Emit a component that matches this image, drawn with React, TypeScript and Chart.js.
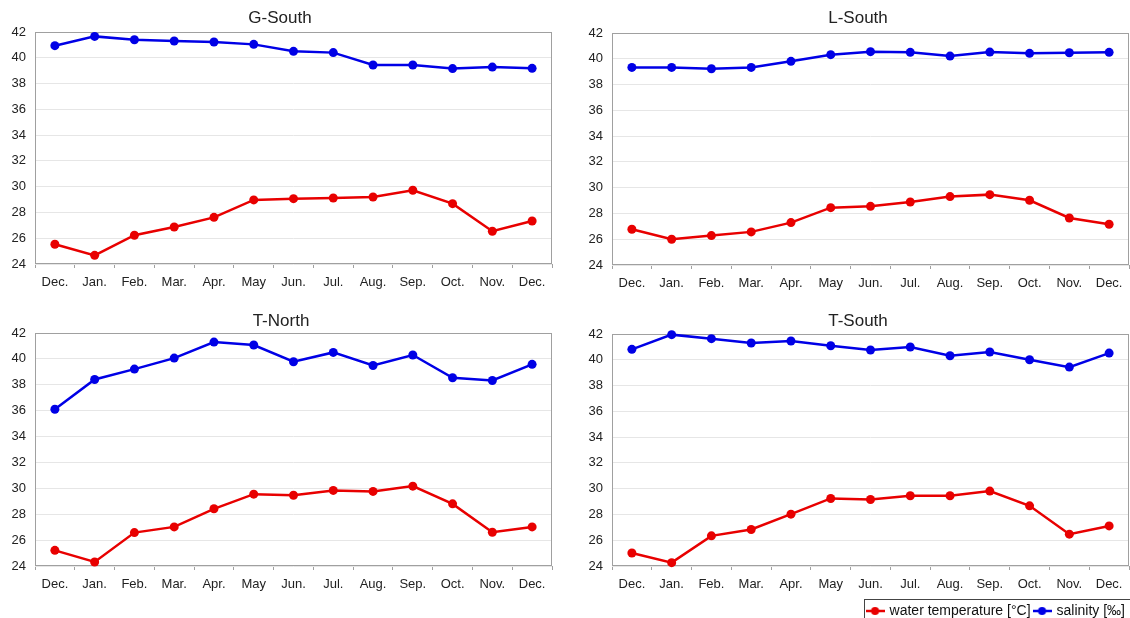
import React, { useEffect, useRef } from 'react';
import { Chart, registerables } from 'chart.js';

Chart.register(...registerables);

// ---------- data ----------
const months = ['Dec.', 'Jan.', 'Feb.', 'Mar.', 'Apr.', 'May', 'Jun.', 'Jul.', 'Aug.', 'Sep.', 'Oct.', 'Nov.', 'Dec.'];
const seriesLabels = ['water temperature [°C]', 'salinity [‰]'];
const yMin = 24;
const yMax = 42;
const yStep = 2;

const gSouthTemp = [25.53, 24.67, 26.23, 26.87, 27.62, 28.97, 29.07, 29.12, 29.2, 29.72, 28.68, 26.54, 27.34];
const gSouthSal = [40.94, 41.66, 41.4, 41.3, 41.22, 41.04, 40.5, 40.4, 39.44, 39.44, 39.16, 39.28, 39.18];

const lSouthTemp = [26.77, 26.0, 26.28, 26.57, 27.29, 28.45, 28.55, 28.89, 29.31, 29.46, 29.02, 27.65, 27.16];
const lSouthSal = [39.33, 39.33, 39.23, 39.33, 39.8, 40.32, 40.55, 40.5, 40.21, 40.52, 40.42, 40.47, 40.5];

const tNorthTemp = [25.21, 24.31, 26.58, 27.02, 28.42, 29.55, 29.47, 29.84, 29.76, 30.17, 28.8, 26.61, 27.02];
const tNorthSal = [36.11, 38.41, 39.21, 40.06, 41.3, 41.07, 39.78, 40.5, 39.49, 40.3, 38.54, 38.33, 39.58];

const tSouthTemp = [25.01, 24.26, 26.34, 26.83, 28.02, 29.24, 29.16, 29.45, 29.45, 29.81, 28.67, 26.47, 27.11];
const tSouthSal = [40.81, 41.95, 41.64, 41.3, 41.46, 41.09, 40.76, 40.99, 40.31, 40.6, 40.0, 39.43, 40.52];

// ---------- style ----------
const RED = 'rgb(232,0,0)';
const BLUE = 'rgb(0,0,230)';
const FONT = "'Liberation Sans', Arial, Helvetica, sans-serif";
const TEXT = '#222';

type PanelProps = {
  title: string;
  temp: number[];
  sal: number[];
  left: number;
  top: number;
  width: number;
  height: number;
  padLeft: number;
  yAxisWidth: number;
  xAxisHeight: number;
  padRight: number;
  titlePadTop: number;
  titlePadBottom: number;
  legend?: boolean;
};

const framePlugin = {
  id: 'frame',
  beforeDatasetsDraw(chart: any) {
    const { ctx, chartArea } = chart;
    ctx.save();
    ctx.strokeStyle = '#a0a0a0';
    ctx.lineWidth = 1;
    ctx.strokeRect(
      Math.round(chartArea.left) + 0.5,
      Math.round(chartArea.top) + 0.5,
      Math.round(chartArea.right - chartArea.left) - 1,
      Math.round(chartArea.bottom - chartArea.top) - 1
    );
    ctx.restore();
  },
};

const legendBoxPlugin = {
  id: 'legendBox',
  afterDraw(chart: any) {
    const lg = chart.legend;
    if (!lg || !lg.options.display || !lg.legendHitBoxes || !lg.legendHitBoxes.length) return;
    const hb = lg.legendHitBoxes;
    let l = Infinity;
    let r = -Infinity;
    let t = Infinity;
    let b = -Infinity;
    hb.forEach((h: any) => {
      l = Math.min(l, h.left);
      r = Math.max(r, h.left + h.width);
      t = Math.min(t, h.top);
      b = Math.max(b, h.top + h.height);
    });
    const ctx = chart.ctx;
    ctx.save();
    ctx.strokeStyle = '#444';
    ctx.lineWidth = 1;
    ctx.strokeRect(Math.round(l - 4) + 0.5, Math.round(t - 5) + 0.5, Math.round(r - l + 14), Math.round(b - t + 14));
    ctx.restore();
  },
};

function markerImage(color: string): HTMLCanvasElement {
  const c = document.createElement('canvas');
  c.width = 19;
  c.height = 10;
  const g = c.getContext('2d')!;
  g.strokeStyle = color;
  g.lineWidth = 2.5;
  g.beginPath();
  g.moveTo(0, 5);
  g.lineTo(19, 5);
  g.stroke();
  g.fillStyle = color;
  g.beginPath();
  g.arc(9.5, 5, 4, 0, Math.PI * 2);
  g.fill();
  return c;
}

function Panel(p: PanelProps) {
  const ref = useRef<HTMLCanvasElement>(null);
  useEffect(() => {
    if (!ref.current) return;
    const mk = (label: string, data: number[], color: string) => ({
      label,
      data,
      borderColor: color,
      backgroundColor: color,
      pointBackgroundColor: color,
      pointBorderColor: color,
      pointBorderWidth: 0,
      borderWidth: 2.5,
      pointRadius: 4.5,
      pointHoverRadius: 4.5,
      tension: 0,
      clip: false as any,
    });
    const tickFont = { family: FONT, size: 13 };
    const chart = new Chart(ref.current, {
      type: 'line',
      data: {
        labels: months,
        datasets: [mk(seriesLabels[0], p.temp, RED), mk(seriesLabels[1], p.sal, BLUE)],
      },
      options: {
        animation: false,
        responsive: false,
        maintainAspectRatio: false,
        devicePixelRatio: 1,
        events: [],
        layout: { padding: { left: p.padLeft, right: p.padRight, top: 0, bottom: 0 } },
        plugins: {
          title: {
            display: true,
            text: p.title,
            color: TEXT,
            font: { family: FONT, size: 17, weight: 'normal' as any },
            padding: { top: p.titlePadTop, bottom: p.titlePadBottom },
          },
          tooltip: { enabled: false },
          legend: p.legend
            ? {
                display: true,
                position: 'bottom',
                align: 'end',
                labels: {
                  usePointStyle: true,
                  pointStyleWidth: 15,
                  padding: 4,
                  color: '#111',
                  font: { family: FONT, size: 14 },
                  generateLabels: (chart: any) =>
                    chart.data.datasets.map((ds: any, i: number) => ({
                      text: ds.label,
                      fillStyle: ds.borderColor,
                      strokeStyle: ds.borderColor,
                      lineWidth: 0,
                      pointStyle: markerImage(ds.borderColor),
                      hidden: false,
                      datasetIndex: i,
                      fontColor: '#111',
                    })),
                },
              }
            : { display: false },
        },
        scales: {
          x: {
            offset: true,
            grid: {
              offset: true,
              drawOnChartArea: false,
              drawTicks: true,
              tickLength: 4,
              color: '#a0a0a0',
            },
            border: { display: false },
            ticks: { autoSkip: false, maxRotation: 0, minRotation: 0, font: tickFont, color: TEXT, padding: 7 },
            afterFit: (s: any) => {
              s.height = p.xAxisHeight;
              s.paddingLeft = 0;
              s.paddingRight = 0;
            },
          },
          y: {
            min: yMin,
            max: yMax,
            ticks: { stepSize: yStep, font: tickFont, color: TEXT, padding: 9 },
            grid: { color: '#e6e6e6', drawTicks: false, lineWidth: 1 },
            border: { display: false },
            afterFit: (s: any) => {
              s.width = p.yAxisWidth;
            },
          },
        },
      } as any,
      plugins: [framePlugin, legendBoxPlugin],
    });
    return () => chart.destroy();
  }, []);
  return (
    <div style={{ position: 'absolute', left: p.left, top: p.top, width: p.width, height: p.height }}>
      <canvas ref={ref} width={p.width} height={p.height} style={{ display: 'block' }} />
    </div>
  );
}

export default function App() {
  return (
    <div
      style={{
        position: 'fixed',
        left: 0,
        top: 0,
        width: 1130,
        height: 618,
        overflow: 'hidden',
        background: '#fff',
      }}
    >
      <Panel
        title="G-South"
        temp={gSouthTemp}
        sal={gSouthSal}
        left={0}
        top={0}
        width={565}
        height={300}
        padLeft={8}
        yAxisWidth={27}
        xAxisHeight={36}
        padRight={13}
        titlePadTop={7.8}
        titlePadBottom={3.8}
      />
      <Panel
        title="L-South"
        temp={lSouthTemp}
        sal={lSouthSal}
        left={575}
        top={0}
        width={566}
        height={300}
        padLeft={12}
        yAxisWidth={25}
        xAxisHeight={35}
        padRight={12}
        titlePadTop={7.8}
        titlePadBottom={4.8}
      />
      <Panel
        title="T-North"
        temp={tNorthTemp}
        sal={tNorthSal}
        left={0}
        top={300}
        width={565}
        height={300}
        padLeft={10}
        yAxisWidth={25}
        xAxisHeight={34}
        padRight={13}
        titlePadTop={10.8}
        titlePadBottom={1.8}
      />
      <Panel
        title="T-South"
        temp={tSouthTemp}
        sal={tSouthSal}
        left={575}
        top={300}
        width={566}
        height={328}
        padLeft={12}
        yAxisWidth={25}
        xAxisHeight={34}
        padRight={12}
        titlePadTop={10.8}
        titlePadBottom={2.8}
        legend
      />
    </div>
  );
}
